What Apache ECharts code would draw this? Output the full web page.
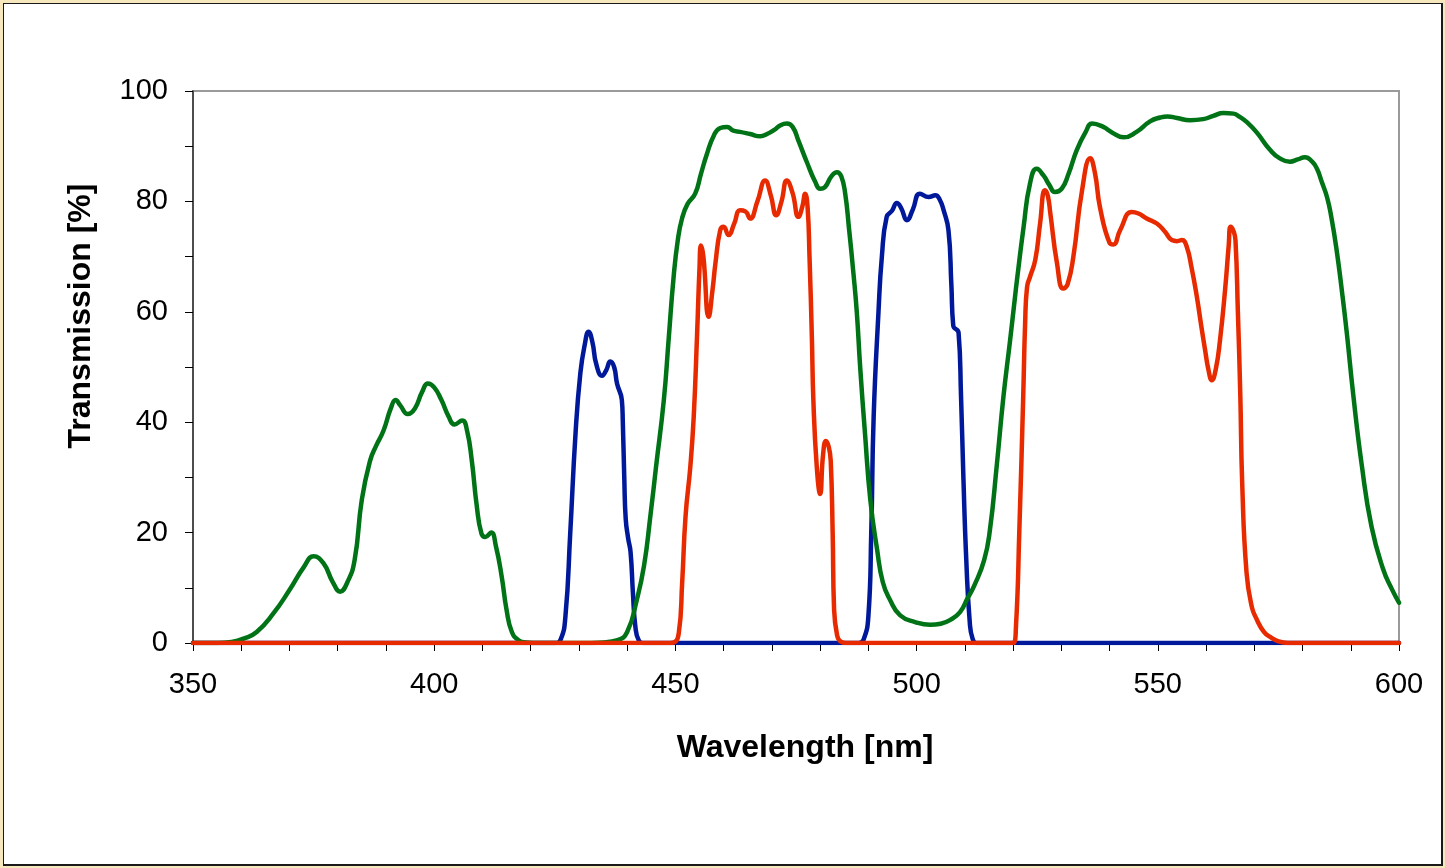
<!DOCTYPE html>
<html>
<head>
<meta charset="utf-8">
<title>Filter transmission spectra</title>
<script src="https://cdn.jsdelivr.net/npm/echarts@6/dist/echarts.min.js"></script>
<style>
  html, body { margin: 0; padding: 0; width: 1445px; height: 868px; background: #f6e7bd; overflow: hidden; }
  #frame { position: absolute; left: 3px; top: 3px; width: 1437px; height: 860px; border-style: solid; border-color: #1a1a1a; border-width: 1.5px 2px 2px 1.5px; background: #ffffff; }
  #chart { position: absolute; left: 0; top: 0; width: 1445px; height: 868px; }
</style>
</head>
<body>
<div id="frame"></div>
<div id="chart"></div>
<script>
// Wavelength ticks / labels
const xTickLabels = [350, 400, 450, 500, 550, 600];
const yTickLabels = [0, 20, 40, 60, 80, 100];

// Green filter: two pass bands (UV-violet hump and broad blue/green-yellow bands)
const greenNm = [350, 355, 358, 360.5, 363.2, 366.7, 370, 373, 375, 377, 379, 380.5, 382, 383.5, 385, 386.7, 388, 389.5, 391, 392, 393, 394.5, 396, 397.5, 398.7, 400, 401.5, 403, 404.2, 405.8, 406.8, 407.8, 408.8, 409.8, 410.6, 411.8, 412.8, 414, 415, 416.1, 417.5, 419, 422, 430, 435, 438, 440, 442, 443.5, 444.8, 446, 447.6, 448.6, 449.6, 450.5, 451.4, 452.5, 454.1, 455.3, 456.5, 458, 459.3, 460.7, 462, 463.4, 465.5, 467.6, 469, 470.4, 471.8, 473.1, 474.3, 475.5, 477.3, 479, 480, 481, 482.3, 483.5, 484.4, 485.2, 486, 486.9, 487.6, 488.3, 489.3, 490.4, 491.8, 493, 494.5, 496.6, 499.7, 502.8, 505, 507, 509, 510.5, 512, 514, 515.2, 516.6, 518, 519.4, 520.4, 520.8, 522.2, 523.5, 524.9, 526.3, 527.5, 528.7, 530.1, 531.5, 533.2, 535, 536.4, 538.7, 540.5, 542.9, 545.6, 548.4, 550.5, 552, 554, 556.7, 559.4, 561.5, 563.6, 565.7, 567, 568.4, 570.5, 573.3, 575.3, 577.4, 579, 580.5, 582, 583, 584, 585.1, 586, 587.1, 588.2, 589.2, 590.5, 592.3, 594.3, 596.7, 598.5, 600];
const greenT  = [0, 0, 0.2, 0.8, 2.0, 5.4, 9.6, 13.8, 15.7, 14.5, 11, 9.3, 11, 15, 26, 33, 35.8, 38.5, 42.5, 44, 43, 41.5, 42.5, 45.5, 47, 46.3, 44, 41, 39.6, 40.3, 38.5, 33, 25, 19.8, 19.2, 20, 17.5, 12, 6, 2, 0.5, 0.1, 0, 0, 0.1, 0.5, 2, 7.8, 14, 22.9, 32, 44, 55, 66, 73, 77, 79.5, 81.4, 85, 88.5, 92, 93.3, 93.5, 92.8, 92.6, 92.2, 91.8, 92.2, 92.9, 93.8, 94.1, 93.5, 91, 87, 83.5, 82.3, 82.6, 84.5, 85.3, 84.5, 81.4, 75, 67, 60, 50, 38, 26, 17, 11, 7.8, 5.0, 3.8, 3.3, 3.5, 4.2, 5.6, 8, 10.5, 15, 20.5, 32, 44.6, 55, 62.7, 65.7, 75.5, 83.2, 85.9, 84.7, 83, 81.7, 82.3, 85, 89.3, 92.5, 94.1, 93.5, 92.5, 91.6, 92.6, 94.5, 95.2, 95.4, 95.1, 94.7, 94.9, 95.5, 96, 95.9, 95.3, 94.4, 92.5, 89.3, 87.8, 87.2, 87.6, 88, 87.2, 85.9, 83.5, 80.7, 77, 71, 63.5, 56, 45.1, 32.1, 21.1, 13.4, 9.8, 7.3];

// Blue filter: two narrow pass bands
const blueNm = [350, 425, 426.2, 427.2, 428.2, 429.3, 430.3, 431.2, 432, 432.8, 433.6, 434.8, 435.7, 436.5, 437.3, 437.9, 438.9, 439.1, 439.4, 439.7, 440.2, 440.7, 441.2, 441.7, 442.4, 443.5, 488, 489, 490, 490.6, 491.1, 492.1, 492.8, 493.8, 494.9, 495.9, 496.8, 498, 499.2, 500.7, 502.5, 503.9, 504.8, 505.6, 506.6, 507.2, 507.6, 508.7, 509.2, 509.7, 510.3, 511, 511.6, 512.5, 600];
const blueT  = [0, 0, 0.6, 4.8, 19.9, 38, 48.9, 54, 56.4, 54.5, 50.5, 48.4, 49.5, 51, 50, 47, 44, 40, 30, 22.5, 19, 16.5, 9, 3, 0.5, 0, 0, 0.6, 4.8, 20, 41, 60, 70, 77.2, 78.3, 79.7, 78.8, 76.6, 78.5, 81.4, 80.8, 81.1, 80.3, 78.4, 74.8, 65, 57.5, 56.2, 45, 30, 15, 4, 0.8, 0, 0];

// Red filter: two multi-peaked pass bands
const redNm = [350, 449, 450.7, 451.4, 452.1, 453.1, 453.8, 454.5, 455.0, 455.3, 455.8, 456.9, 457.7, 458.3, 459.3, 460, 461, 462.2, 463.4, 464.5, 465.5, 467, 468.6, 469.8, 470.9, 472, 473.1, 474.3, 475.5, 476.3, 476.9, 477.4, 477.8, 478.3, 478.6, 479.3, 480, 480.6, 481.2, 481.8, 482.2, 482.6, 482.9, 483.5, 484.2, 485.5, 520, 520.6, 521.3, 522.1, 522.5, 522.9, 523.5, 524.6, 525.6, 526.6, 527.2, 527.7, 529.1, 530.4, 531.3, 532.5, 534.3, 536, 537, 538, 540, 540.8, 542.2, 544.6, 546, 547.7, 549.8, 551.5, 552.9, 554, 555, 556, 557, 558.1, 559, 559.8, 560.5, 561.2, 562, 562.9, 564, 564.7, 565.1, 565.7, 566.1, 566.6, 567.1, 567.5, 568.4, 569.5, 570.5, 572, 573.3, 575, 577, 600];
const redT  = [0, 0, 1.8, 10.9, 22.9, 32, 41, 56, 68, 72, 70, 59.1, 64, 68.8, 74.8, 75.4, 73.9, 76, 78.4, 78.2, 76.9, 80, 83.8, 81, 77.5, 80, 83.8, 81.5, 77.2, 79, 81.4, 79, 70, 55, 44, 32, 27, 34, 36.6, 35.5, 33, 20, 6, 1.5, 0.3, 0, 0, 3, 20.5, 44.6, 58, 64.5, 66.3, 69.4, 76, 82, 81, 78, 68.8, 64.2, 65, 70, 82, 87.8, 85, 79, 72.5, 72.2, 74.8, 78.1, 77.8, 76.9, 76, 74.5, 73, 72.8, 73, 71.8, 68, 62.7, 57.5, 53.1, 49.5, 47.6, 49.5, 54.9, 64.5, 72, 75.4, 74.6, 73, 60, 45, 28.9, 12.7, 6.5, 4.3, 2, 1.1, 0.3, 0, 0];

// Axis titles
const xTitle = 'Wavelength [nm]';
const yTitle = 'Transmission [%]';

function pairs(xs, ys) { return xs.map((x, i) => [x, ys[i]]); }

const FONT = '"Liberation Sans", Arial, sans-serif';

function lineSeries(name, xs, ys, color, z) {
  return {
    name: name,
    type: 'line',
    data: pairs(xs, ys),
    showSymbol: false,
    smooth: 0.5,
    z: z,
    lineStyle: { color: color, width: 4.5, cap: 'round', join: 'round' },
    emphasis: { disabled: true },
    animation: false
  };
}

const chart = echarts.init(document.getElementById('chart'), null, { renderer: 'canvas' });
chart.setOption({
  backgroundColor: 'transparent',
  animation: false,
  grid: {
    left: 193, top: 91, right: 46, bottom: 225,
    show: true, borderColor: '#9a9a9a', borderWidth: 2, backgroundColor: 'transparent'
  },
  xAxis: {
    type: 'value', min: 350, max: 600, interval: 10,
    axisLine: { show: true, onZero: false, lineStyle: { color: '#000', width: 1.5 } },
    axisTick: { show: true, length: 8, lineStyle: { color: '#000', width: 1 } },
    axisLabel: {
      margin: 27, fontFamily: FONT, fontSize: 29, color: '#000',
      formatter: v => (xTickLabels.indexOf(v) >= 0 ? String(v) : '')
    },
    splitLine: { show: false }
  },
  yAxis: {
    type: 'value', min: 0, max: 100, interval: 10,
    axisLine: { show: true, lineStyle: { color: '#333', width: 1.5 } },
    axisTick: { show: true, length: 8, lineStyle: { color: '#000', width: 1 } },
    axisLabel: {
      margin: 25, fontFamily: FONT, fontSize: 29, color: '#000',
      formatter: v => (yTickLabels.indexOf(v) >= 0 ? String(v) : '')
    },
    splitLine: { show: false }
  },
  graphic: [
    {
      type: 'text', x: 805, y: 748, z: 10,
      style: { text: xTitle, font: 'bold 32px ' + FONT, fill: '#000', textAlign: 'center', textVerticalAlign: 'middle' }
    },
    {
      type: 'text', x: 81, y: 316, rotation: Math.PI / 2, z: 10,
      style: { text: yTitle, font: 'bold 32px ' + FONT, fill: '#000', textAlign: 'center', textVerticalAlign: 'middle' }
    }
  ],
  series: [
    lineSeries('Blue', blueNm, blueT, '#00199a', 2),
    lineSeries('Green', greenNm, greenT, '#007317', 3),
    lineSeries('Red', redNm, redT, '#e82a00', 4)
  ]
});
</script>
</body>
</html>
